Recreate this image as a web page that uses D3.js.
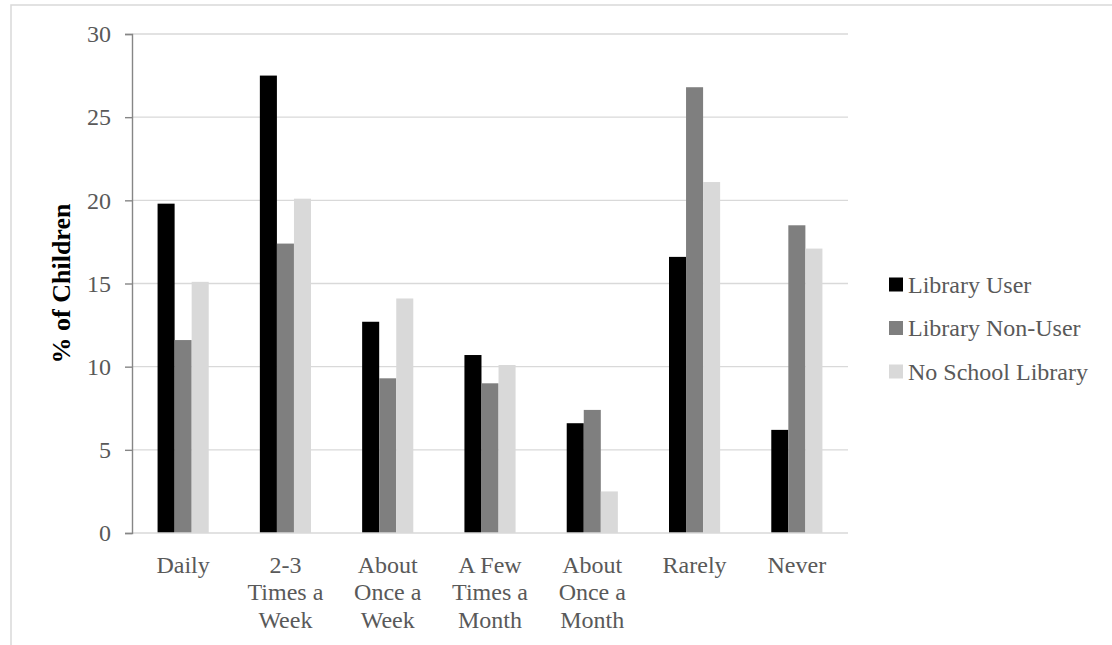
<!DOCTYPE html>
<html>
<head>
<meta charset="utf-8">
<script src="https://cdn.jsdelivr.net/npm/d3@7"></script>
<style>
  html, body { margin: 0; padding: 0; background: #fff; }
  svg { display: block; font-family: "Liberation Serif", "DejaVu Serif", serif; }
</style>
</head>
<body>
<svg id="chart" width="1112" height="645"></svg>
<script>
// Reading frequency by school-library status
const categories = [
  ["Daily"],
  ["2-3", "Times a", "Week"],
  ["About", "Once a", "Week"],
  ["A Few", "Times a", "Month"],
  ["About", "Once a", "Month"],
  ["Rarely"],
  ["Never"]
];
const seriesNames = ["Library User", "Library Non-User", "No School Library"];
const libraryUser     = [19.8, 27.5, 12.7, 10.7, 6.6, 16.6, 6.2];
const libraryNonUser  = [11.6, 17.4,  9.3,  9.0, 7.4, 26.8, 18.5];
const noSchoolLibrary = [15.1, 20.1, 14.1, 10.1, 2.5, 21.1, 17.1];
const yTicks = [0, 5, 10, 15, 20, 25, 30];
const seriesColors = ["#000000", "#7f7f7f", "#d9d9d9"];

const series = [libraryUser, libraryNonUser, noSchoolLibrary];
const catKeys = categories.map(c => c.join(" "));

const svg = d3.select("#chart");
const plot = { left: 132, right: 848, top: 34, bottom: 533 };

// Chart-area border (runs off the right and bottom edges)
svg.append("rect")
  .attr("x", 11).attr("y", 5)
  .attr("width", 1200).attr("height", 800)
  .attr("fill", "none").attr("stroke", "#d9d9d9").attr("stroke-width", 1.5);

const x0 = d3.scaleBand().domain(catKeys).range([plot.left, plot.right]).paddingInner(0).paddingOuter(0);
const x1 = d3.scaleBand().domain(d3.range(series.length))
  .range([x0.bandwidth() * 0.25, x0.bandwidth() * 0.75]);
const y = d3.scaleLinear().domain([0, 30]).range([plot.bottom, plot.top]);

// Horizontal gridlines
svg.append("g")
  .selectAll("line")
  .data(yTicks.filter(t => t > 0))
  .join("line")
  .attr("x1", plot.left).attr("x2", plot.right)
  .attr("y1", d => y(d)).attr("y2", d => y(d))
  .attr("stroke", "#d9d9d9").attr("stroke-width", 1.4);

// Bars
const groups = svg.append("g")
  .selectAll("g")
  .data(catKeys)
  .join("g")
  .attr("transform", d => `translate(${x0(d)},0)`);

groups.selectAll("rect")
  .data((d, i) => series.map((s, j) => ({ s: j, v: s[i] })))
  .join("rect")
  .attr("x", d => x1(d.s))
  .attr("width", x1.bandwidth())
  .attr("y", d => y(d.v))
  .attr("height", d => y(0) - y(d.v))
  .attr("fill", d => seriesColors[d.s]);

// X axis baseline
svg.append("line")
  .attr("x1", plot.left).attr("x2", plot.right)
  .attr("y1", y(0)).attr("y2", y(0))
  .attr("stroke", "#d9d9d9").attr("stroke-width", 1.4);

// Y axis
const yAxis = d3.axisLeft(y).tickValues(yTicks).tickSize(7).tickPadding(14).tickFormat(d3.format("d"));
const yg = svg.append("g").attr("transform", `translate(${plot.left},0)`).call(yAxis);
yg.select(".domain").attr("stroke", "#868686").attr("stroke-width", 1.4);
yg.selectAll(".tick line").attr("stroke", "#868686").attr("stroke-width", 1.4);
yg.selectAll(".tick text")
  .attr("fill", "#595959")
  .style("font-family", "Liberation Serif")
  .style("font-size", "24px");

// Category labels (multi-line)
const xl = svg.append("g");
categories.forEach((lines, i) => {
  const cx = x0(catKeys[i]) + x0.bandwidth() / 2;
  const t = xl.append("text")
    .attr("text-anchor", "middle")
    .attr("fill", "#595959")
    .style("font-size", "24px");
  lines.forEach((ln, k) => {
    t.append("tspan").attr("x", cx).attr("y", 573 + k * 27.3).text(ln);
  });
});

// Y axis title
svg.append("text")
  .attr("transform", `translate(70,${(plot.top + plot.bottom) / 2}) rotate(-90)`)
  .attr("text-anchor", "middle")
  .attr("fill", "#000")
  .style("font-weight", "bold")
  .style("font-size", "26px")
  .text("% of Children");

// Legend
const legend = svg.append("g").attr("transform", "translate(889,0)");
seriesNames.forEach((name, i) => {
  const cy = 284.5 + i * 43.5;
  legend.append("rect")
    .attr("x", 0).attr("y", cy - 7)
    .attr("width", 14).attr("height", 14)
    .attr("fill", seriesColors[i]);
  legend.append("text")
    .attr("x", 19).attr("y", cy + 8)
    .attr("fill", "#595959")
    .style("font-size", "24px")
    .text(name);
});
</script>
</body>
</html>
